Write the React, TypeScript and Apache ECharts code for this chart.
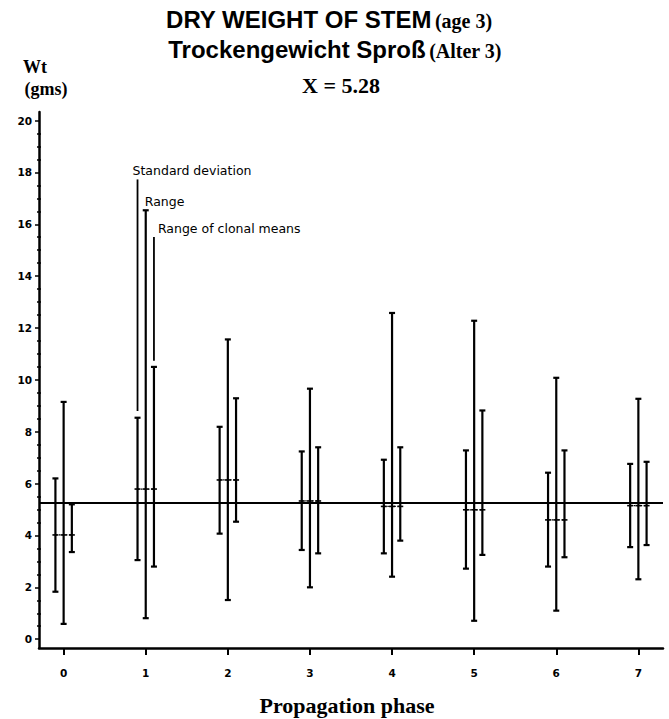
import React, { useEffect, useRef } from 'react';
import * as echarts from 'echarts';

// Dry weight of stem (age 3) per propagation phase
const phases = [0, 1, 2, 3, 4, 5, 6, 7];
const phaseMean = [4.02, 5.79, 6.14, 5.33, 5.12, 4.99, 4.6, 5.15];
const sdLow = [1.83, 3.05, 4.07, 3.44, 3.31, 2.72, 2.8, 3.55];
const sdHigh = [6.2, 8.54, 8.19, 7.24, 6.92, 7.28, 6.42, 6.76];
const rangeLow = [0.59, 0.81, 1.51, 2.0, 2.41, 0.71, 1.1, 2.31];
const rangeHigh = [9.15, 16.54, 11.56, 9.66, 12.58, 12.28, 10.08, 9.27];
const clonalLow = [3.36, 2.8, 4.53, 3.31, 3.8, 3.25, 3.16, 3.63];
const clonalHigh = [5.2, 10.5, 9.29, 7.4, 7.4, 8.82, 7.28, 6.84];
const grandMean = 5.28;

const yTicks = [0, 2, 4, 6, 8, 10, 12, 14, 16, 18, 20];
const xTicks = [0, 1, 2, 3, 4, 5, 6, 7];

// Key drawn on phase 1: which bar of the triplet, where its leader starts and ends
const noteLabels = ['Standard deviation', 'Range', 'Range of clonal means'];
const noteSlot = [-1, 0, 1];
const noteStart = [8.8, 16.54, 10.74];
const noteEnd = [17.73, 16.54, 15.51];
const notePhase = 1;

const BAR_SPREAD = 0.1; // phase units between the three bars of a triplet
const CAP = 3;
const noteShift = [-5, -1, 4];

const minorTicks: number[] = [];
for (let v = 0.5; v < 20; v += 0.5) if (v % 2 !== 0) minorTicks.push(v);

const seg = (x1: number, y1: number, x2: number, y2: number, w: number, dash?: number[]) => ({
  type: 'line',
  shape: { x1, y1, x2, y2 },
  style: { stroke: '#000', lineWidth: w, lineDash: dash },
});

export default function App() {
  const ref = useRef<HTMLDivElement>(null);

  useEffect(() => {
    if (!ref.current) return;
    const chart = echarts.init(ref.current, undefined, { renderer: 'svg' });

    const barData = phases.map((p, i) => [
      p, phaseMean[i], sdLow[i], sdHigh[i], rangeLow[i], rangeHigh[i], clonalLow[i], clonalHigh[i],
    ]);
    const noteData = noteLabels.map((_, i) => [notePhase, noteSlot[i], noteStart[i], noteEnd[i]]);

    const tickFont = { fontFamily: 'DejaVu Sans', fontWeight: 'bold' as const, fontSize: 10.5, color: '#000' };
    const yMin = -0.34;
    const yMax = 20.33;

    chart.setOption({
      animation: false,
      backgroundColor: '#fff',
      grid: { left: 39, right: 6, top: 112, bottom: 71 },
      xAxis: {
        type: 'value',
        min: -0.3,
        max: 7.3,
        splitLine: { show: false },
        axisLine: { onZero: false, lineStyle: { color: '#000', width: 2.5 } },
        axisTick: { customValues: xTicks, length: 7, lineStyle: { color: '#000', width: 2 } },
        axisLabel: { customValues: xTicks, margin: 19, ...tickFont },
      },
      yAxis: [
        {
          type: 'value',
          min: yMin,
          max: yMax,
          splitLine: { show: false },
          axisLine: { show: true, onZero: false, lineStyle: { color: '#000', width: 2.5 } },
          axisTick: { customValues: yTicks, length: 4, lineStyle: { color: '#000', width: 1.5 } },
          axisLabel: { customValues: yTicks, margin: 7, ...tickFont },
        },
        {
          type: 'value',
          min: yMin,
          max: yMax,
          position: 'left',
          splitLine: { show: false },
          axisLine: { show: false, onZero: false },
          axisTick: { customValues: minorTicks, length: 2, inside: true, lineStyle: { color: '#000', width: 1.5 } },
          axisLabel: { show: false },
        },
        {
          type: 'value',
          min: yMin,
          max: yMax,
          position: 'left',
          splitLine: { show: false },
          axisLine: { show: false, onZero: false },
          axisTick: { customValues: minorTicks, length: 2, inside: false, lineStyle: { color: '#000', width: 1.5 } },
          axisLabel: { show: false },
        },
      ],
      series: [
        {
          type: 'custom',
          name: 'bars',
          data: barData,
          encode: { x: 0, y: [1, 2, 3, 4, 5, 6, 7] },
          renderItem: (params: any, api: any) => {
            const x = api.value(0);
            const c = api.coord([x, api.value(1)]);
            const dx = api.size([BAR_SPREAD, 0])[0];
            const pairs = [
              [api.value(2), api.value(3)],
              [api.value(4), api.value(5)],
              [api.value(6), api.value(7)],
            ];
            const children: any[] = [];
            pairs.forEach(([lo, hi], k) => {
              const px = c[0] + (k - 1) * dx;
              const yLo = api.coord([x, lo])[1];
              const yHi = api.coord([x, hi])[1];
              children.push(seg(px, yLo, px, yHi, 2.2));
              children.push(seg(px - CAP, yLo, px + CAP, yLo, 2.2));
              children.push(seg(px - CAP, yHi, px + CAP, yHi, 2.2));
              children.push(seg(px - 3, c[1], px + 3, c[1], 1.6));
            });
            children.push(seg(c[0] - dx, c[1], c[0] + dx, c[1], 1.2, [1.5, 2]));
            return { type: 'group', children };
          },
          markLine: {
            silent: true,
            symbol: 'none',
            label: { show: false },
            lineStyle: { color: '#000', width: 2, type: 'solid' },
            data: [{ yAxis: grandMean }],
          },
          z: 3,
        },
        {
          type: 'custom',
          name: 'key',
          data: noteData,
          encode: { x: 0, y: [2, 3] },
          renderItem: (params: any, api: any) => {
            const i = params.dataIndex;
            const dx = api.size([BAR_SPREAD, 0])[0];
            const top = api.coord([api.value(0), api.value(3)]);
            const px = top[0] + api.value(1) * dx;
            const yStart = api.coord([api.value(0), api.value(2)])[1];
            const children: any[] = [];
            if (yStart > top[1]) children.push(seg(px, yStart, px, top[1], 1.8));
            children.push({
              type: 'text',
              x: px + noteShift[i],
              y: top[1] - 8.5,
              style: {
                text: noteLabels[i],
                fontFamily: 'DejaVu Sans',
                fontSize: 12.5,
                fill: '#000',
                align: 'left',
                verticalAlign: 'middle',
              },
            });
            return { type: 'group', children };
          },
          z: 4,
        },
      ],
      graphic: [
        {
          type: 'text',
          x: 329,
          y: 19,
          style: {
            text: '{a|DRY WEIGHT OF STEM} {b|(age 3)}',
            align: 'center',
            verticalAlign: 'middle',
            fill: '#000',
            rich: {
              a: { fontFamily: 'Liberation Sans', fontWeight: 'bold', fontSize: 24, fill: '#000', verticalAlign: 'bottom' },
              b: { fontFamily: 'Liberation Serif', fontWeight: 'bold', fontSize: 20, fill: '#000', verticalAlign: 'bottom' },
            },
          },
        },
        {
          type: 'text',
          x: 335,
          y: 49,
          style: {
            text: '{a|Trockengewicht Sproß} {b|(Alter 3)}',
            align: 'center',
            verticalAlign: 'middle',
            fill: '#000',
            rich: {
              a: { fontFamily: 'Liberation Sans', fontWeight: 'bold', fontSize: 24, fill: '#000', verticalAlign: 'bottom' },
              b: { fontFamily: 'Liberation Serif', fontWeight: 'bold', fontSize: 20, fill: '#000', verticalAlign: 'bottom' },
            },
          },
        },
        {
          type: 'text',
          x: 341,
          y: 85,
          style: {
            text: `X = ${grandMean.toFixed(2)}`,
            fontFamily: 'Liberation Serif',
            fontWeight: 'bold',
            fontSize: 22,
            fill: '#000',
            align: 'center',
            verticalAlign: 'middle',
          },
        },
        {
          type: 'text',
          x: 35,
          y: 67,
          style: {
            text: 'Wt',
            fontFamily: 'Liberation Serif',
            fontWeight: 'bold',
            fontSize: 18,
            fill: '#000',
            align: 'center',
            verticalAlign: 'middle',
          },
        },
        {
          type: 'text',
          x: 46,
          y: 89,
          style: {
            text: '(gms)',
            fontFamily: 'Liberation Serif',
            fontWeight: 'bold',
            fontSize: 18,
            fill: '#000',
            align: 'center',
            verticalAlign: 'middle',
          },
        },
        {
          type: 'text',
          x: 347,
          y: 705,
          style: {
            text: 'Propagation phase',
            fontFamily: 'Liberation Serif',
            fontWeight: 'bold',
            fontSize: 22,
            fill: '#000',
            align: 'center',
            verticalAlign: 'middle',
          },
        },
      ],
    });

    return () => chart.dispose();
  }, []);

  return (
    <div
      ref={ref}
      style={{ position: 'absolute', left: 0, top: 0, width: 669, height: 719, background: '#fff' }}
    />
  );
}
